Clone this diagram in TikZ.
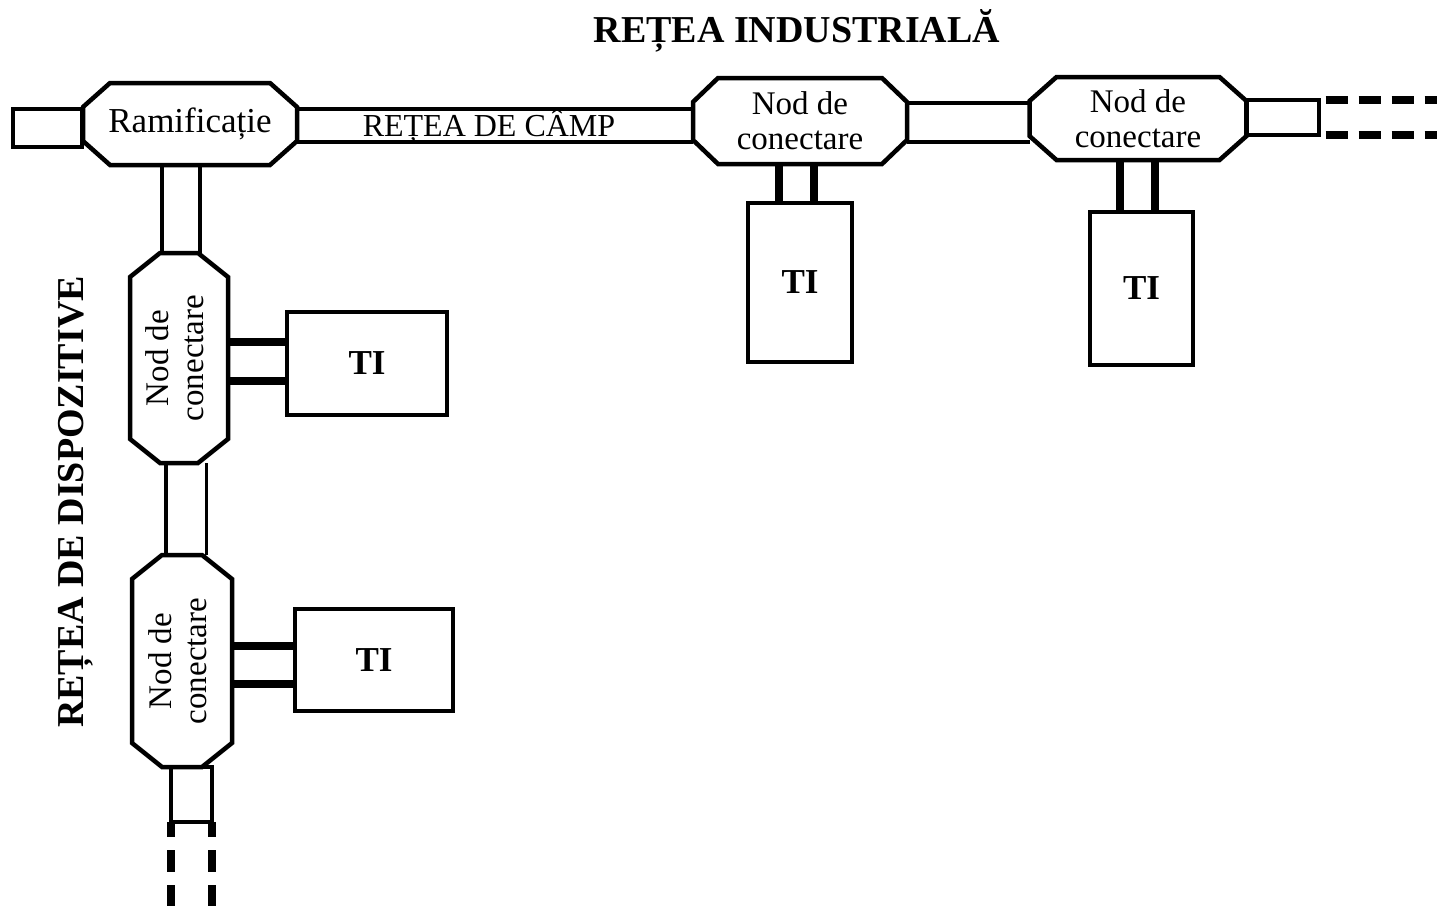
\documentclass[tikz,border=0pt]{standalone}
\usepackage{fontspec}
\setmainfont{Liberation Serif}
\usetikzlibrary{calc}

\tikzset{
  hub/.style={inner sep=0pt, outer sep=0pt, align=center, font=\fontsize{33}{35}\selectfont},
  hubline/.style={line width=4.5pt, line join=miter},
  bus/.style={double, line width=3.5pt},
  stubbox/.style={draw, line width=4pt, inner sep=0pt, outer sep=0pt},
  tibox/.style={draw, line width=4pt, inner sep=0pt, outer sep=0pt, font=\bfseries\fontsize{35}{35}\selectfont},
  tap/.style={line width=8pt},
  cont/.style={line width=8pt, dash pattern=on 22pt off 11pt},
  heading/.style={inner sep=0pt, font=\bfseries\fontsize{38}{38}\selectfont}
}

% chamfered outline round a node: name, x cut, y cut
\newcommand{\chamfbox}[3]{%
  \draw[hubline] ($(#1.north west)+(#2,0)$) -- ($(#1.north east)+(-#2,0)$)
    -- ($(#1.north east)+(0,#3)$) -- ($(#1.south east)+(0,-#3)$)
    -- ($(#1.south east)+(-#2,0)$) -- ($(#1.south west)+(#2,0)$)
    -- ($(#1.south west)+(0,-#3)$) -- ($(#1.north west)+(0,#3)$) -- cycle;}

\begin{document}
\begin{tikzpicture}[x=1pt,y=-1pt]
\useasboundingbox (0,0) rectangle (1437,906);

% hubs
\node[hub, minimum width=214pt, minimum height=82pt, font=\fontsize{35}{35}\selectfont] (ram) at (190,124) {Ramificație};
\node[hub, minimum width=214pt, minimum height=86pt] (nc1) at (800,121) {Nod de\\conectare};
\node[hub, minimum width=217pt, minimum height=83pt] (nc2) at (1138,118.5) {Nod de\\conectare};
\node[hub, minimum width=98pt, minimum height=210pt] (ncA) at (179,358)
  {\rotatebox{90}{\begin{tabular}{@{}c@{}}Nod de\\conectare\end{tabular}}};
\node[hub, minimum width=100pt, minimum height=212pt] (ncB) at (182,661)
  {\rotatebox{90}{\begin{tabular}{@{}c@{}}Nod de\\conectare\end{tabular}}};

% busses
\draw[bus, double distance=29.5pt] ([yshift=-1.5pt]ram.east) -- ([yshift=-1.5pt]ram.east -| nc1.west)
  node[midway, xshift=-6pt, yshift=-1pt, font=\fontsize{32}{32}\selectfont] (camp) {REȚEA DE CÂMP};
\draw[bus, double distance=35.5pt] ([yshift=-1.5pt]nc1.east) -- ([yshift=-1.5pt]nc1.east -| nc2.west);
\draw[bus, double distance=34.5pt] ([xshift=2pt]ncA.north) -- ([xshift=2pt]ncA.north |- ram.south);
\draw[bus, double distance=37pt] ([xshift=4pt]ncB.north) -- ([xshift=4pt]ncB.north |- ncA.south);

\chamfbox{ram}{27}{24}
\chamfbox{nc1}{25}{24}
\chamfbox{nc2}{27}{24}
\chamfbox{ncA}{30}{24}
\chamfbox{ncB}{30}{24}

% stubs
\node[stubbox, minimum width=69pt, minimum height=38pt] (stubL) at (47.5,128) {};
\node[stubbox, minimum width=73pt, minimum height=35pt] (stubR) at (1282,117.5) {};
\node[stubbox, minimum width=41pt, minimum height=55pt] (stubB) at (191,794.5) {};

% terminals
\node[tibox, minimum width=104pt, minimum height=159pt] (TI1) at (800,282.5) {TI};
\node[tibox, minimum width=103pt, minimum height=153pt] (TI2) at (1141.5,288.5) {TI};
\node[tibox, minimum width=160pt, minimum height=103pt] (TIA) at (367,363.5) {TI};
\node[tibox, minimum width=158pt, minimum height=102pt] (TIB) at (374,660) {TI};

\foreach \d in {-21.5,13.5} {
  \draw[tap] ([xshift=\d pt]TI1.north) -- ([xshift=\d pt]TI1.north |- nc1.south);
  \draw[tap] ([xshift=\d pt]TI2.north) -- ([xshift=\d pt]TI2.north |- nc2.south);
}
\draw[tap] ([yshift=22pt]TIA.west) -- ([yshift=22pt]TIA.west -| ncA.east);
\draw[tap] ([yshift=-17pt]TIA.west) -- ([yshift=-17pt]TIA.west -| ncA.east);
\draw[tap] ([yshift=14pt]TIB.west) -- ([yshift=14pt]TIB.west -| ncB.east);
\draw[tap] ([yshift=-24pt]TIB.west) -- ([yshift=-24pt]TIB.west -| ncB.east);

% continuations
\coordinate (endR1) at (1437,100);
\coordinate (endR2) at (1437,135);
\coordinate (endB1) at (170.5,906);
\coordinate (endB2) at (211.5,906);
\draw[cont, dash phase=26pt] (stubR.north east) -- (endR1);
\draw[cont, dash phase=26pt] (stubR.south east) -- (endR2);
\draw[cont, dash pattern=on 22pt off 13pt, dash phase=7pt] (stubB.south west) -- (endB1);
\draw[cont, dash pattern=on 22pt off 13pt, dash phase=7pt] (stubB.south east) -- (endB2);

% headings
\node[heading, anchor=base] (indnet) at (797,42) {REȚEA INDUSTRIALĂ};
\node[heading, rotate=90, anchor=base] (devnet) at (83,502) {REȚEA DE DISPOZITIVE};

\end{tikzpicture}
\end{document}
